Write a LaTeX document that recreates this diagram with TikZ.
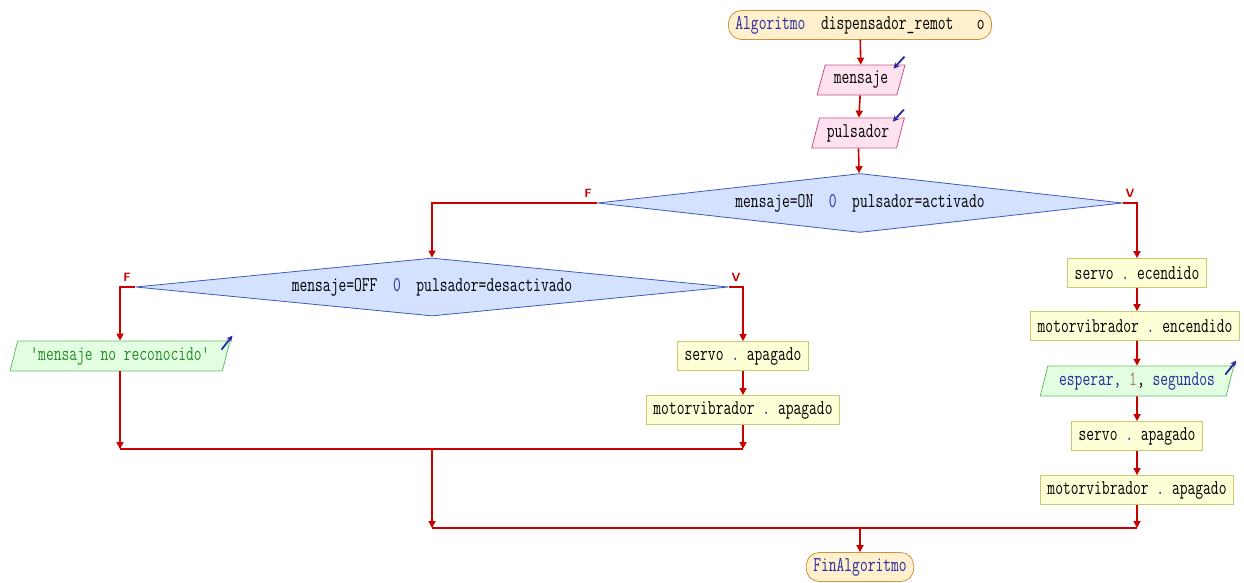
\documentclass[tikz,border=0pt]{standalone}
\usepackage{fontspec}
\setmonofont[FakeStretch=0.72]{Latin Modern Mono}
\usepackage{tikz}
\usetikzlibrary{arrows.meta,calc,positioning,shapes.geometric}

\definecolor{flowred}{RGB}{200,0,0}
\definecolor{kwblue}{RGB}{40,40,160}
\definecolor{numbrown}{RGB}{165,125,85}
\definecolor{termfill}{RGB}{255,240,205}
\definecolor{termline}{RGB}{205,145,65}
\definecolor{infill}{RGB}{255,226,240}
\definecolor{inline}{RGB}{200,80,140}
\definecolor{decfill}{RGB}{212,226,255}
\definecolor{decline}{RGB}{60,90,190}
\definecolor{outfill}{RGB}{226,255,226}
\definecolor{outline}{RGB}{100,190,100}
\definecolor{outtext}{RGB}{40,140,40}
\definecolor{procfill}{RGB}{255,255,215}
\definecolor{procline}{RGB}{200,200,110}

\tikzset{
  txt/.style={font=\ttfamily\fontsize{21}{23}\selectfont},
  terminal/.style={txt,draw=termline,fill=termfill,rounded corners=13pt,
    minimum height=29pt,inner xsep=7pt,inner ysep=1pt,line width=0.8pt},
  inbox/.style={txt,trapezium,trapezium left angle=71,trapezium right angle=109,
    trapezium stretches=true,draw=inline,fill=infill,minimum height=30pt,
    inner xsep=2pt,inner ysep=1pt,line width=0.8pt},
  outbox/.style={inbox,draw=outline,fill=outfill},
  decision/.style={txt,diamond,aspect=9,draw=decline,fill=decfill,inner sep=0pt,
    line width=0.8pt},
  procbox/.style={txt,draw=procline,fill=procfill,minimum height=29pt,
    inner xsep=7pt,inner ysep=1pt,line width=0.8pt},
  branch/.style={text=flowred,font=\sffamily\bfseries\fontsize{12}{13}\selectfont},
  line/.style={flowred,line width=1.6pt},
  flow/.style={line,-{Triangle[length=7pt,width=7pt]}},
  ioarrow/.style={kwblue,line width=1.8pt,-{Stealth[length=6pt,width=6pt]}}
}

\begin{document}
\begin{tikzpicture}[x=1pt,y=-1pt]
  \useasboundingbox (0,0) rectangle (1244,582);

  % inicio y lecturas
  \node[terminal] (start) at (860,25)
    {{\color{kwblue}Algoritmo}~~dispensador\_remot~~~o};
  \node[inbox,minimum width=88pt] (msg) at (861,80) {mensaje};
  \node[inbox,minimum width=93pt] (pul) at (858,133) {pulsador};
  \draw[ioarrow] ($(msg.top right corner)+(-1,-8)$) -- ++(-11,12);
  \draw[ioarrow] ($(pul.top right corner)+(-1,-8)$) -- ++(-11,12);

  % decisiones
  \node[decision,minimum width=525pt,minimum height=59pt] (cond1) at (860,203)
    {mensaje=ON~~{\color{kwblue}0}~~pulsador=activado};
  \node[decision,minimum width=593pt,minimum height=58pt] (cond2) at (432,287)
    {mensaje=OFF~~{\color{kwblue}0}~~pulsador=desactivado};
  \node[branch] (f1) at (588,193) {F};
  \node[branch] (v1) at (1130,193) {V};
  \node[branch] (f2) at (127,277) {F};
  \node[branch] (v2) at (736,277) {V};

  % rama falso / falso
  \node[outbox,minimum width=220pt,text=outtext] (nomsg) at (120,356)
    {'mensaje~no~reconocido'};
  \draw[ioarrow] ($(nomsg.top right corner)+(-9,9)$) -- ++(11,-14);

  % rama falso / verdadero
  \node[procbox] (srvoffa) at (743,356) {servo~{\color{kwblue}.}~apagado};
  \node[procbox] (mvoffa) at (743,410) {motorvibrador~{\color{kwblue}.}~apagado};

  % rama verdadero
  \node[procbox] (srvon) at (1137,273) {servo~{\color{kwblue}.}~ecendido};
  \node[procbox] (mvon) at (1135,326) {motorvibrador~{\color{kwblue}.}~encendido};
  \node[outbox,minimum width=194pt] (wait) at (1137,381)
    {{\color{kwblue}esperar,}~{\color{numbrown}1},~{\color{kwblue}segundos}};
  \draw[ioarrow] ($(wait.top right corner)+(-9,9)$) -- ++(11,-14);
  \node[procbox] (srvoffb) at (1137,436) {servo~{\color{kwblue}.}~apagado};
  \node[procbox] (mvoffb) at (1137,490) {motorvibrador~{\color{kwblue}.}~apagado};

  % fin
  \node[terminal] (fin) at (860,567) {{\color{kwblue}FinAlgoritmo}};

  \coordinate (joina) at (432,449);
  \coordinate (joinb) at (860,528);

  % conectores
  \draw[flow] (start) -- (msg);
  \draw[flow] (msg) -- (pul);
  \draw[flow] (pul) -- (cond1);
  \draw[flow] (cond1.west) -| (cond2.north);
  \draw[flow] (cond1.east) -| (srvon.north);
  \draw[flow] (cond2.west) -| (nomsg.north);
  \draw[flow] (cond2.east) -| (srvoffa.north);
  \draw[flow] (srvoffa) -- (mvoffa);
  \draw[flow] (srvon) -- (srvon |- mvon.north);
  \draw[flow] (srvon |- mvon.south) -- (wait);
  \draw[flow] (wait) -- (srvoffb);
  \draw[flow] (srvoffb) -- (mvoffb);
  \draw[flow] (nomsg) -- (nomsg |- joina);
  \draw[flow] (mvoffa) -- (mvoffa |- joina);
  \draw[line] (nomsg |- joina) -- (mvoffa |- joina);
  \draw[flow] (joina) -- (joina |- joinb);
  \draw[flow] (mvoffb) -- (mvoffb |- joinb);
  \draw[line] (joina |- joinb) -- (mvoffb |- joinb);
  \draw[flow] (joinb) -- (fin);
\end{tikzpicture}
\end{document}
